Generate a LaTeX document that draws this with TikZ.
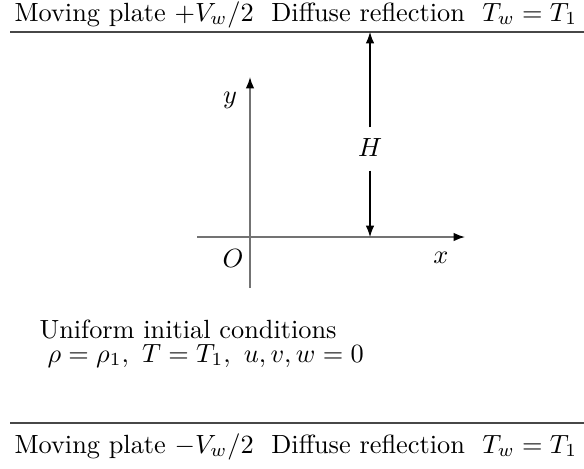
\documentclass[tikz,border=0pt]{standalone}
\usetikzlibrary{arrows.meta}
\begin{document}
\begin{tikzpicture}[x=0.38pt,y=-0.38pt,
  plate/.style={line width=0.95pt,draw=black!72},
  axis/.style={line width=0.55pt,draw=black!55,-{Latex[length=4.3pt,width=3.2pt,color=black]}},
  dim/.style={line width=0.4pt,draw=black,-{Latex[length=4.3pt,width=3.2pt]}},
  lbl/.style={inner sep=0pt}]
\useasboundingbox (0,0) rectangle (584,468);
% plates
\coordinate (tpl) at (10,32);
\coordinate (tpr) at (590,32);
\coordinate (bpl) at (10,423);
\coordinate (bpr) at (590,423);
\draw[plate] (tpl) -- (tpr);
\draw[plate] (bpl) -- (bpr);
\node[lbl,anchor=base west] (ttext) at (14,21) {Moving plate $+V_w/2$\ \ Diffuse reflection\ \ $T_w=T_1$};
\node[lbl,anchor=base west] (btext) at (14,453) {Moving plate $-V_w/2$\ \ Diffuse reflection\ \ $T_w=T_1$};
% axes
\coordinate (yb) at (250,288);
\coordinate (yt) at (250,77);
\coordinate (xl) at (197,237);
\coordinate (xr) at (465,237);
\draw[axis] (yb) -- (yt);
\draw[axis] (xl) -- (xr);
\node[lbl] (O) at (233,258) {$O$};
\node[lbl] (xlab) at (441,258) {$x$};
\node[lbl] (ylab) at (230,100) {$y$};
% H dimension
\node[lbl] (H) at (370,147) {$H$};
\coordinate (Htop) at (370,32);
\coordinate (Hbot) at (370,237);
\draw[dim] (H.north) ++(0,-10) -- (Htop);
\draw[dim] (H.south) ++(0,14) -- (Hbot);
% initial conditions
\node[lbl,anchor=base west] (ic1) at (39,338) {Uniform initial conditions};
\node[lbl,anchor=base west] (ic2) at (47,362) {$\rho=\rho_1,\ T=T_1,\ u,v,w=0$};
\end{tikzpicture}
\end{document}
